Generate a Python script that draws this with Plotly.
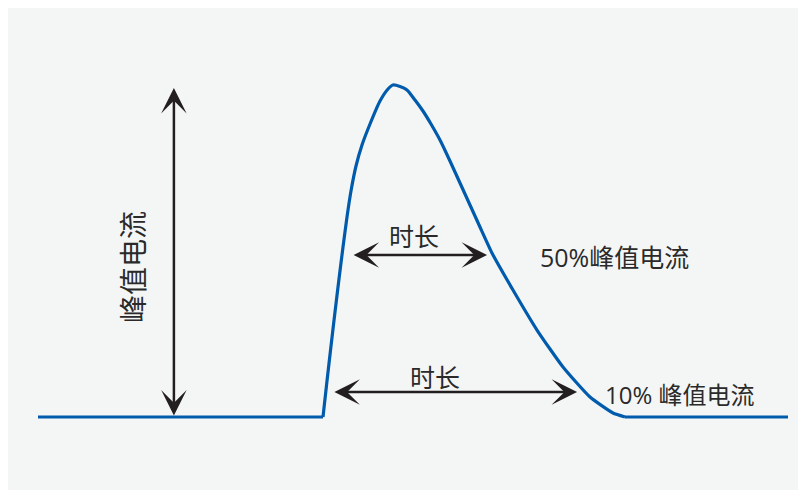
import plotly.graph_objects as go

# ---- data (time in arbitrary units, current in % of peak) ----
base_left_t = [-95.0, 0.0]
base_left_i = [0.0, 0.0]

pulse_t = [0.0, 1.33, 2.67, 4.0, 5.33, 6.67, 8.0, 9.33, 11.0, 13.0, 15.67, 19.0, 21.67,
           23.33, 25.67, 28.0, 30.67, 33.33, 36.0, 39.0, 42.33, 45.67, 49.0, 52.33,
           56.33, 63.33, 71.33, 80.0, 89.0, 96.67, 100.67]
pulse_i = [0.0, 10.84, 21.39, 31.63, 41.57, 51.20, 60.24, 68.07, 75.60, 81.93, 88.25, 95.18,
           98.80, 100.0, 99.55, 98.49, 95.48, 92.17, 88.25, 83.43, 77.11, 70.48, 63.86,
           57.23, 49.40, 38.25, 26.20, 15.06, 6.02, 1.20, 0.0]

base_right_t = [100.67, 155.0]
base_right_i = [0.0, 0.0]

# arrows: (t_start, i_start, t_end, i_end)
arrow_peak = (-49.7, 0.0, -49.7, 99.1)
arrow_50 = (9.7, 48.8, 54.7, 48.8)
arrow_10 = (3.3, 7.5, 84.7, 7.5)

label_peak = "峰值电流"
label_dur = "时长"
label_50 = "50%峰值电流"
label_10 = "10% 峰值电流"

BLUE = "#005bac"
INK = "#231f20"
TXT = "#2a2a2a"
FONT = "Open Sans, Noto Sans CJK SC, sans-serif"

fig = go.Figure()
for tt, ii in [(base_left_t, base_left_i), (base_right_t, base_right_i)]:
    fig.add_trace(go.Scatter(x=tt, y=ii, mode="lines",
                             line=dict(color=BLUE, width=3.2), hoverinfo="skip"))
fig.add_trace(go.Scatter(x=pulse_t, y=pulse_i, mode="lines",
                         line=dict(color=BLUE, width=3.2, shape="spline", smoothing=0.5),
                         hoverinfo="skip"))

for (t0, i0, t1, i1) in [arrow_peak, arrow_50, arrow_10]:
    fig.add_annotation(x=t1, y=i1, ax=t0, ay=i0, xref="x", yref="y", axref="x", ayref="y",
                       text="", showarrow=True, arrowside="end+start",
                       arrowhead=3, startarrowhead=3, arrowsize=1.7, startarrowsize=1.7,
                       arrowwidth=2.5, arrowcolor=INK, standoff=0, startstandoff=0)

fig.add_annotation(x=-63.3, y=45.2, xref="x", yref="y", text=label_peak, showarrow=False,
                   textangle=-90, font=dict(family=FONT, size=28, color=TXT))
fig.add_annotation(x=30.3, y=54.5, xref="x", yref="y", text=label_dur, showarrow=False,
                   font=dict(family=FONT, size=25, color=TXT))
fig.add_annotation(x=37.3, y=12.0, xref="x", yref="y", text=label_dur, showarrow=False,
                   font=dict(family=FONT, size=25, color=TXT))
fig.add_annotation(x=71.7, y=48.2, xref="x", yref="y", text=label_50, showarrow=False,
                   xanchor="left", font=dict(family=FONT, size=25, color=TXT))
fig.add_annotation(x=93.3, y=6.9, xref="x", yref="y", text=label_10, showarrow=False,
                   xanchor="left", font=dict(family=FONT, size=24, color=TXT))

fig.update_layout(
    width=806, height=490,
    margin=dict(l=0, r=0, t=0, b=0),
    paper_bgcolor="#f4f6f6",
    plot_bgcolor="#f4f6f6",
    showlegend=False,
    hovermode=False,
    xaxis=dict(range=[-105.0, 163.67], visible=False, fixedrange=True),
    yaxis=dict(range=[-24.40, 123.19], visible=False, fixedrange=True),
)

fig.write_html("out.html", config={"displayModeBar": False})
